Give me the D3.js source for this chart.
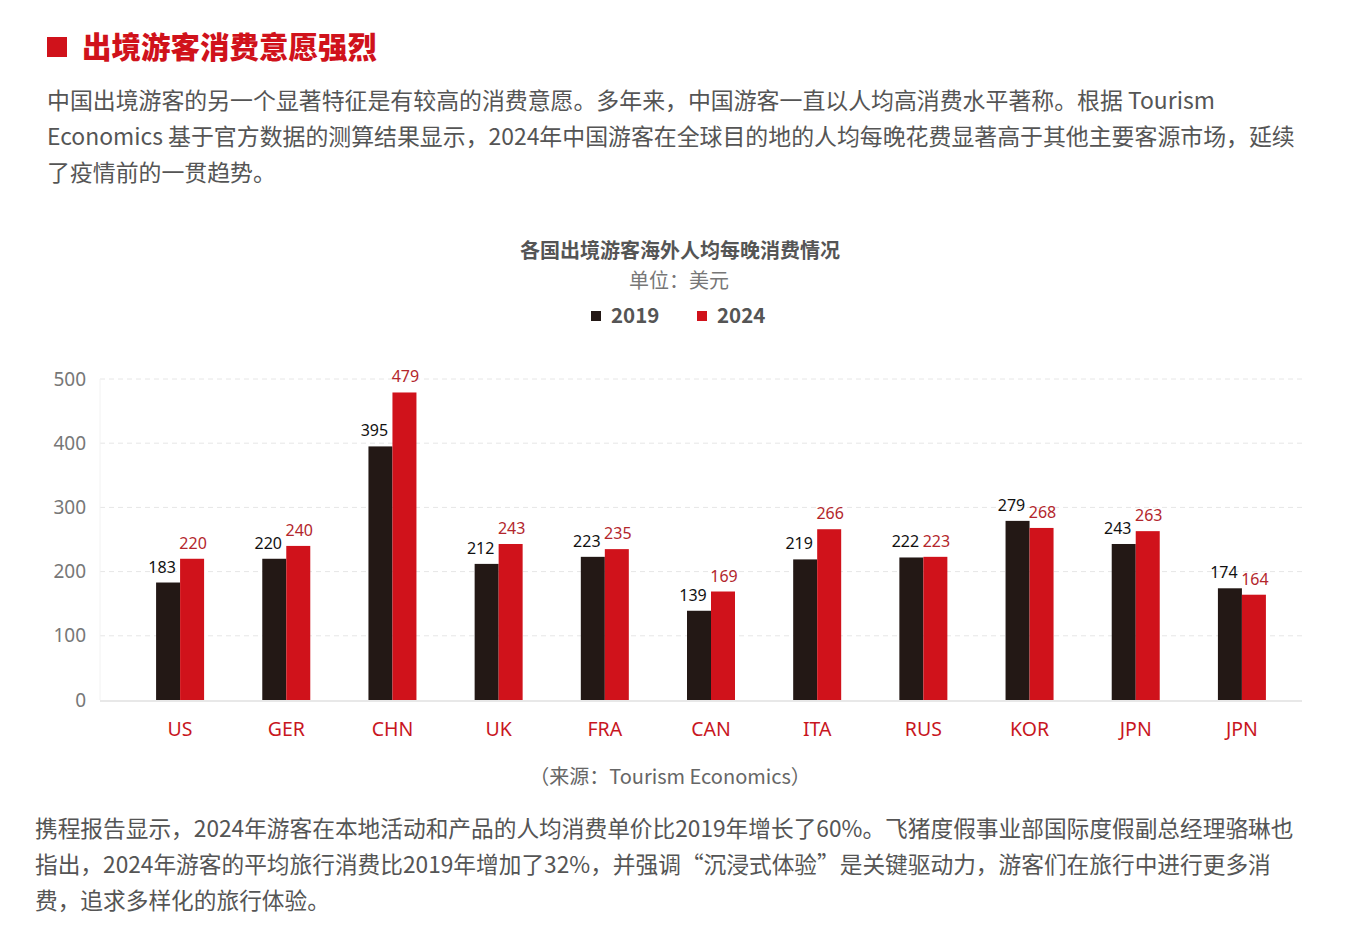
<!DOCTYPE html>
<html>
<head>
<meta charset="utf-8">
<script src="https://cdn.jsdelivr.net/npm/d3@7"></script>
<style>
  body { margin: 0; background: #fff; }
  svg { display: block; font-family: "Noto Sans CJK SC", "Noto Sans", sans-serif; }
</style>
</head>
<body>
<svg id="chart"></svg>
<script>
const categories = ['US', 'GER', 'CHN', 'UK', 'FRA', 'CAN', 'ITA', 'RUS', 'KOR', 'JPN', 'JPN'];
const values2019 = [183, 220, 395, 212, 223, 139, 219, 222, 279, 243, 174];
const values2024 = [220, 240, 479, 243, 235, 169, 266, 223, 268, 263, 164];
const seriesNames = ['2019', '2024'];
const yTicks = [0, 100, 200, 300, 400, 500];

const introLines = [
  '中国出境游客的另一个显著特征是有较高的消费意愿。多年来，中国游客一直以人均高消费水平著称。根据 Tourism',
  'Economics 基于官方数据的测算结果显示，2024年中国游客在全球目的地的人均每晚花费显著高于其他主要客源市场，延续',
  '了疫情前的一贯趋势。'
];
const outroLines = [
  '携程报告显示，2024年游客在本地活动和产品的人均消费单价比2019年增长了60%。飞猪度假事业部国际度假副总经理骆琳也',
  '指出，2024年游客的平均旅行消费比2019年增加了32%，并强调“沉浸式体验”是关键驱动力，游客们在旅行中进行更多消',
  '费，追求多样化的旅行体验。'
];

const colors = { '2019': '#231815', '2024': '#d0121b' };
const labelColors = { '2019': '#111', '2024': '#b3262c' };

const W = 1353, H = 945;
const svg = d3.select('#chart').attr('width', W).attr('height', H);

// header
svg.append('rect').attr('x', 47).attr('y', 37).attr('width', 20).attr('height', 20).attr('fill', '#d0121b');
svg.append('text').attr('x', 82).attr('y', 58)
  .attr('font-size', 29.5).attr('font-weight', 900).attr('fill', '#d0121b')
  .text('出境游客消费意愿强烈');

svg.append('g').selectAll('text').data(introLines).join('text')
  .attr('x', 47).attr('y', (d, i) => 109 + i * 36)
  .attr('font-size', 22.9).attr('fill', '#555')
  .text(d => d);

// chart titles
svg.append('text').attr('x', 680).attr('y', 258).attr('text-anchor', 'middle')
  .attr('font-size', 20).attr('font-weight', 700).attr('fill', '#555')
  .text('各国出境游客海外人均每晚消费情况');
svg.append('text').attr('x', 679).attr('y', 288).attr('text-anchor', 'middle')
  .attr('font-size', 20).attr('fill', '#777')
  .text('单位：美元');

const legend = svg.append('g').selectAll('g').data(seriesNames).join('g')
  .attr('transform', (d, i) => `translate(${591 + i * 106}, 316)`);
legend.append('rect').attr('x', 0).attr('y', -5).attr('width', 10).attr('height', 10)
  .attr('fill', d => colors[d]);
legend.append('text').attr('x', 20).attr('y', 7)
  .attr('font-size', 20.5).attr('font-weight', 700).attr('fill', '#555')
  .text(d => d);

// plot
const plot = { left: 127, right: 1295, top: 379, bottom: 700 };

const x = d3.scaleBand().domain(d3.range(categories.length))
  .range([plot.left, plot.right]).paddingInner(0).paddingOuter(0);
const x1 = d3.scaleBand().domain(seriesNames).range([-24, 24]);
const y = d3.scaleLinear().domain([0, 500]).range([plot.bottom, plot.top]);

const grid = svg.append('g');
grid.selectAll('line').data(yTicks.filter(t => t > 0)).join('line')
  .attr('x1', 100).attr('x2', 1302)
  .attr('y1', d => y(d)).attr('y2', d => y(d))
  .attr('stroke', '#e6e6e6').attr('stroke-dasharray', '5,4');
svg.append('line').attr('x1', 100).attr('x2', 1302)
  .attr('y1', y(0) + 1).attr('y2', y(0) + 1)
  .attr('stroke', '#e8e8e8').attr('stroke-width', 2);
svg.append('line').attr('x1', 100).attr('x2', 100)
  .attr('y1', y(500)).attr('y2', y(0))
  .attr('stroke', '#f2f2f2');

const yAxis = d3.axisLeft(y).tickValues(yTicks).tickSize(0).tickPadding(0);
svg.append('g').attr('transform', 'translate(86,0)').call(yAxis)
  .call(g => g.select('.domain').remove())
  .call(g => g.selectAll('text').attr('font-size', 19).attr('fill', '#777')
    .attr('font-family', '"Noto Sans", sans-serif'));

const rows = categories.map((c, i) => ({ i, c, vals: [
  { s: '2019', v: values2019[i] }, { s: '2024', v: values2024[i] }
] }));

const groups = svg.append('g').selectAll('g').data(rows).join('g')
  .attr('transform', d => `translate(${x(d.i) + x.bandwidth() / 2},0)`);

groups.selectAll('rect').data(d => d.vals).join('rect')
  .attr('x', d => x1(d.s)).attr('width', x1.bandwidth())
  .attr('y', d => y(d.v)).attr('height', d => y(0) - y(d.v))
  .attr('fill', d => colors[d.s]);

groups.selectAll('text.val').data(d => d.vals).join('text')
  .attr('class', 'val')
  .attr('x', d => x1(d.s) + x1.bandwidth() / 2 + (d.s === '2019' ? -6 : 1))
  .attr('y', d => y(d.v) - 10)
  .attr('text-anchor', 'middle')
  .attr('font-size', 16).attr('fill', d => labelColors[d.s])
  .attr('font-family', '"Noto Sans", sans-serif')
  .text(d => d.v);

const xAxis = d3.axisBottom(x).tickFormat(i => categories[i]).tickSize(0).tickPadding(0);
svg.append('g').attr('transform', `translate(0,${plot.bottom + 22})`).call(xAxis)
  .call(g => g.select('.domain').remove())
  .call(g => g.selectAll('text').attr('font-size', 19.5).attr('fill', '#c8161e')
    .attr('font-family', '"Noto Sans", sans-serif'));

// source + closing paragraph
svg.append('text').attr('x', 670).attr('y', 784).attr('text-anchor', 'middle')
  .attr('font-size', 20).attr('fill', '#666')
  .text('（来源：Tourism Economics）');

svg.append('g').selectAll('text').data(outroLines).join('text')
  .attr('x', 35).attr('y', (d, i) => 837 + i * 36)
  .attr('font-size', 22.7).attr('fill', '#555')
  .text(d => d);
</script>
</body>
</html>
